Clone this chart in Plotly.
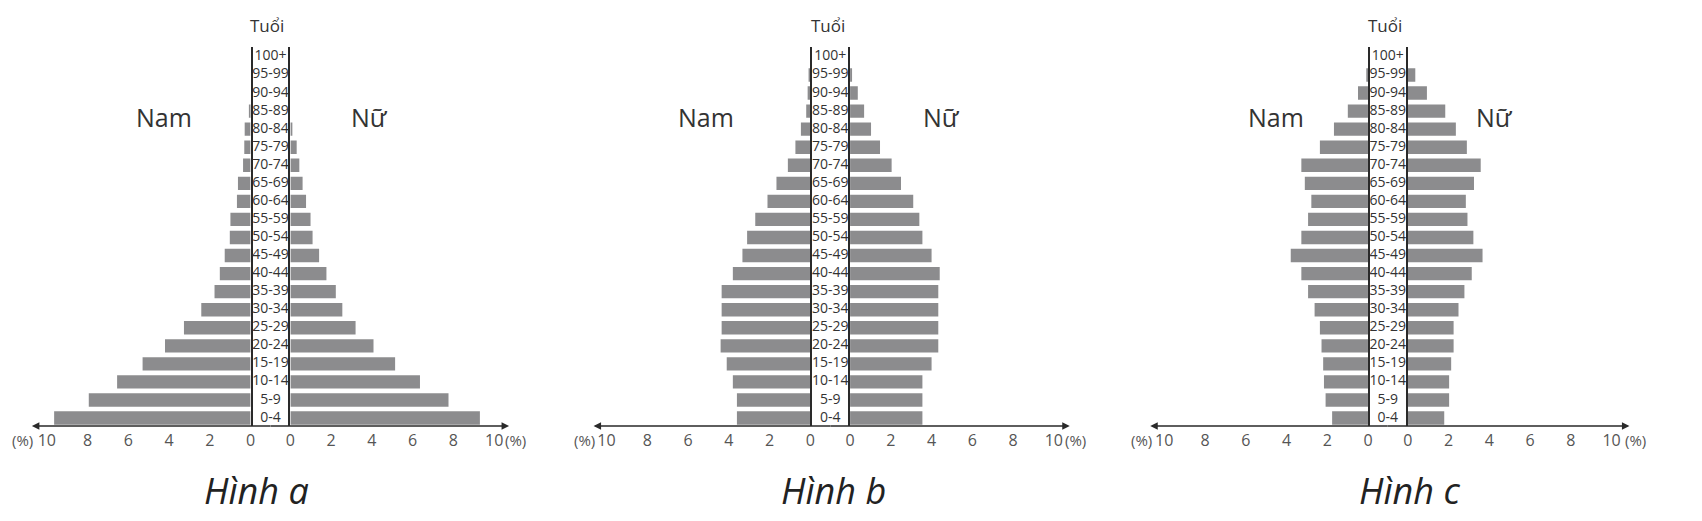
import plotly.graph_objects as go

# ---------------- data ----------------
age_groups = ["0-4", "5-9", "10-14", "15-19", "20-24", "25-29", "30-34", "35-39",
              "40-44", "45-49", "50-54", "55-59", "60-64", "65-69", "70-74",
              "75-79", "80-84", "85-89", "90-94", "95-99", "100+"]

male_a = [9.64, 7.94, 6.55, 5.3, 4.2, 3.27, 2.42, 1.77, 1.51, 1.27, 1.02, 0.99,
          0.67, 0.62, 0.37, 0.31, 0.29, 0.05, 0.0, 0.0, 0.0]
female_a = [9.3, 7.76, 6.36, 5.14, 4.08, 3.2, 2.55, 2.23, 1.77, 1.41, 1.09, 0.99,
            0.77, 0.6, 0.44, 0.31, 0.08, 0.0, 0.0, 0.0, 0.0]

male_b = [3.6, 3.6, 3.8, 4.1, 4.4, 4.35, 4.35, 4.35, 3.8, 3.33, 3.1, 2.7,
          2.1, 1.66, 1.1, 0.73, 0.46, 0.2, 0.13, 0.05, 0.0]
female_b = [3.55, 3.55, 3.55, 4.0, 4.33, 4.33, 4.33, 4.33, 4.4, 4.0, 3.55, 3.4,
            3.1, 2.5, 2.04, 1.47, 1.03, 0.69, 0.38, 0.08, 0.0]

male_c = [1.76, 2.08, 2.16, 2.2, 2.28, 2.36, 2.62, 2.94, 3.27, 3.79, 3.27, 2.94,
          2.78, 3.1, 3.27, 2.36, 1.67, 0.99, 0.49, 0.05, 0.0]
female_c = [1.79, 2.03, 2.03, 2.13, 2.25, 2.25, 2.49, 2.78, 3.14, 3.67, 3.22, 2.93,
            2.85, 3.25, 3.58, 2.9, 2.36, 1.84, 0.94, 0.37, 0.0]

tick_values = [0, 2, 4, 6, 8, 10]
panel_titles = ["Hình a", "Hình b", "Hình c"]
age_title = "Tuổi"
male_label = "Nam"
female_label = "Nữ"
unit_label = "(%)"

# ---------------- layout constants ----------------
W, H = 1702, 521
BODY_MARGIN = 8          # default page margin in front of the plot div
PX_PER_UNIT = 20.5
BAR_COLOR = "#8c8c8e"
TEXT_COLOR = "#333333"
TICK_COLOR = "#555555"
FONT = "Open Sans"

# pixel extents (page coordinates) for each panel
panels = [
    dict(l0=27, s0=247, s1=287, r1=507, tuoi=-4, nam=-107, nu=100, hinh=-14),
    dict(l0=592, s0=810, s1=850, r1=1071, tuoi=-2, nam=-125, nu=112, hinh=3),
    dict(l0=1152, s0=1371, s1=1411, r1=1634, tuoi=-3, nam=-113, nu=107, hinh=22),
]
Y_BOTTOM_PX, Y_TOP_PX = 426, 47


def px(x):
    return (x - BODY_MARGIN) / W


def py(y):
    return (H - (y - BODY_MARGIN)) / H


y_domain = [py(Y_BOTTOM_PX), py(Y_TOP_PX)]
y_range = [-0.44, len(age_groups) - 0.45]

series = [(male_a, female_a), (male_b, female_b), (male_c, female_c)]
yidx = list(range(len(age_groups)))

fig = go.Figure()
layout = {}
annotations = []

for i, (p, (male, female)) in enumerate(zip(panels, series)):
    base = 3 * i
    ids = [base + 1, base + 2, base + 3]  # left, strip, right
    names = ["" if k == 1 else str(k) for k in ids]
    xl, xs, xr = ["x" + n for n in names]
    yl, ys, yr = ["y" + n for n in names]

    # left (male)
    fig.add_trace(go.Bar(x=male, y=yidx, orientation="h", marker_color=BAR_COLOR,
                         marker_line_width=0, xaxis=xl, yaxis=yl, showlegend=False,
                         hoverinfo="x+y"))
    # strip labels
    fig.add_trace(go.Scatter(x=[0] * len(age_groups), y=yidx, mode="text",
                             text=age_groups, textposition="middle center",
                             textfont=dict(size=14, color=TEXT_COLOR, family=FONT),
                             xaxis=xs, yaxis=ys, showlegend=False, hoverinfo="skip"))
    # right (female)
    fig.add_trace(go.Bar(x=female, y=yidx, orientation="h", marker_color=BAR_COLOR,
                         marker_line_width=0, xaxis=xr, yaxis=yr, showlegend=False,
                         hoverinfo="x+y"))

    lw = p["s0"] - p["l0"]
    rw = p["r1"] - p["s1"]
    axis_common = dict(showgrid=False, zeroline=False, ticks="",
                       tickvals=tick_values, ticklabelstandoff=3,
                       tickfont=dict(size=16, color=TICK_COLOR, family=FONT),
                       showline=False, fixedrange=True)
    layout["xaxis" + names[0]] = dict(domain=[px(p["l0"]), px(p["s0"])],
                                      range=[lw / PX_PER_UNIT, 0],
                                      anchor=yl, **axis_common)
    layout["xaxis" + names[1]] = dict(domain=[px(p["s0"]), px(p["s1"])],
                                      range=[-1, 1], anchor=ys, visible=False)
    layout["xaxis" + names[2]] = dict(domain=[px(p["s1"]), px(p["r1"])],
                                      range=[0, rw / PX_PER_UNIT],
                                      anchor=yr, **axis_common)
    ycommon = dict(domain=y_domain, range=y_range, showgrid=False, zeroline=False,
                   showticklabels=False, ticks="", fixedrange=True)
    layout["yaxis" + names[0]] = dict(anchor=xl, side="right", showline=True,
                                      linecolor="#2a2a2a", linewidth=1.5, **ycommon)
    layout["yaxis" + names[1]] = dict(anchor=xs, visible=False, **ycommon)
    layout["yaxis" + names[2]] = dict(anchor=xr, side="left", showline=True,
                                      linecolor="#2a2a2a", linewidth=1.5, **ycommon)

    center = (p["s0"] + p["s1"]) / 2
    # horizontal axis line with arrows
    annotations.append(dict(x=px(p["l0"]), y=y_domain[0], xref="paper", yref="paper",
                            ax=center - p["l0"], ay=0, text="", showarrow=True,
                            arrowhead=2, arrowsize=1, arrowwidth=1.5,
                            arrowcolor="#2a2a2a"))
    annotations.append(dict(x=px(p["r1"]), y=y_domain[0], xref="paper", yref="paper",
                            ax=center - p["r1"], ay=0, text="", showarrow=True,
                            arrowhead=2, arrowsize=1, arrowwidth=1.5,
                            arrowcolor="#2a2a2a"))
    # unit labels
    for xx in (p["l0"] - 9, p["r1"] + 6):
        annotations.append(dict(x=px(xx), y=py(440), xref="paper", yref="paper",
                                text=unit_label, showarrow=False, xanchor="center",
                                yanchor="middle",
                                font=dict(size=15, color=TICK_COLOR, family=FONT)))
    # Tuổi
    annotations.append(dict(x=px(center + p["tuoi"]), y=py(25), xref="paper",
                            yref="paper", text=age_title, showarrow=False,
                            xanchor="center", yanchor="middle",
                            font=dict(size=17, color=TEXT_COLOR, family=FONT)))
    # Nam / Nữ
    annotations.append(dict(x=px(center + p["nam"]), y=py(117), xref="paper",
                            yref="paper", text=male_label, showarrow=False,
                            xanchor="center", yanchor="middle",
                            font=dict(size=25, color=TEXT_COLOR, family=FONT)))
    annotations.append(dict(x=px(center + p["nu"]), y=py(117), xref="paper",
                            yref="paper", text=female_label, showarrow=False,
                            xanchor="center", yanchor="middle",
                            font=dict(size=25, color=TEXT_COLOR, family=FONT)))
    # Hình
    annotations.append(dict(x=px(center + p["hinh"]), y=py(490), xref="paper",
                            yref="paper", text="<i>" + panel_titles[i] + "</i>",
                            showarrow=False, xanchor="center", yanchor="middle",
                            font=dict(size=36, color="#222222", family=FONT)))

fig.update_layout(**layout)
fig.update_layout(width=W, height=H, margin=dict(l=0, r=0, t=0, b=0),
                  paper_bgcolor="white", plot_bgcolor="white", bargap=0.26,
                  annotations=annotations, showlegend=False,
                  font=dict(family=FONT, color=TEXT_COLOR))

fig.write_html("out.html")
